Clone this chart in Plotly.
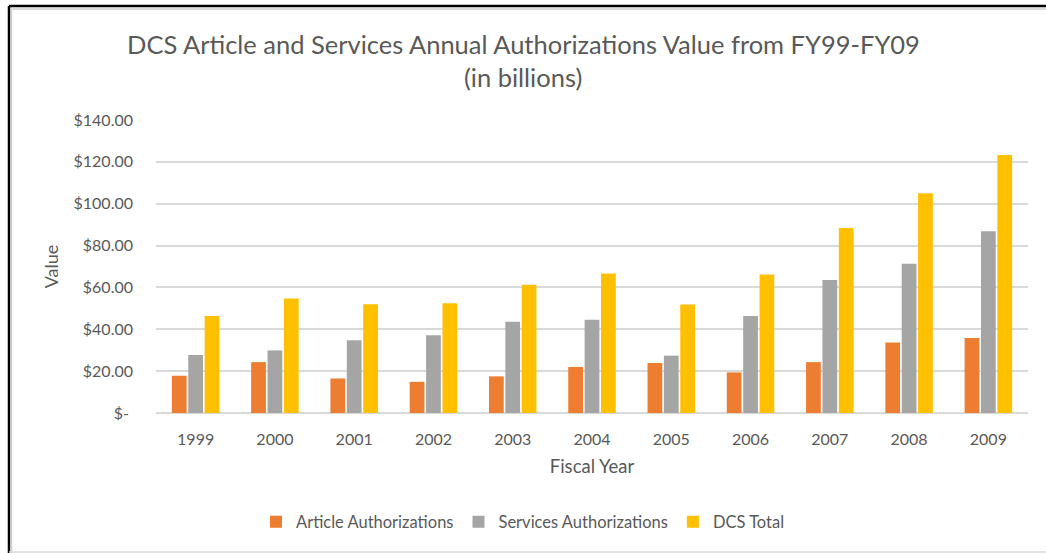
import plotly.graph_objects as go

# Fiscal years and authorization values (billions of dollars)
years = ["1999", "2000", "2001", "2002", "2003", "2004", "2005", "2006", "2007", "2008", "2009"]
article = [17.8, 24.3, 16.5, 14.9, 17.5, 22.0, 23.9, 19.4, 24.3, 33.7, 35.8]
services = [27.7, 29.9, 34.8, 37.2, 43.6, 44.5, 27.4, 46.4, 63.6, 71.3, 86.9]
dcs_total = [46.4, 54.7, 52.0, 52.5, 61.3, 66.6, 51.8, 66.2, 88.4, 105.0, 123.3]

y_ticks = [0, 20, 40, 60, 80, 100, 120, 140]
y_tick_text = ["$-\u00a0", "$20.00", "$40.00", "$60.00", "$80.00", "$100.00", "$120.00", "$140.00"]

title_lines = ["DCS Article and Services Annual Authorizations Value from FY99-FY09", "(in billions)"]

W, H = 1046, 553
ML, MR, MT, MB = 156, 18, 120, 140
FONT = "Lato, 'Open Sans', sans-serif"
TXT = "#595959"

fig = go.Figure()
for name, vals, col in [
    ("Article Authorizations", article, "#ED7D31"),
    ("Services Authorizations", services, "#A5A5A5"),
    ("DCS Total", dcs_total, "#FFC000"),
]:
    fig.add_trace(go.Bar(x=years, y=vals, name=name,
                         marker=dict(color=col, line=dict(width=0))))

# helpers to place frame and title in paper coordinates
pw, ph = W - ML - MR, H - MT - MB
def px(x):
    return (x - ML) / pw
def py(y):
    return (H - MB - y) / ph

frame = [
    (9, 6, W, 6, "#000000", 2.5),
    (9, 6, 9, H, "#000000", 2.5),
    (11.5, 9, W, 9, "#D0D0D0", 1.5),
    (11.5, 9, 11.5, H, "#D0D0D0", 1.5),
    (9, 552, W, 552, "#D9D9D9", 1.5),
]
shapes = [dict(type="line", xref="paper", yref="paper",
               x0=px(a), y0=py(b), x1=px(c), y1=py(d),
               line=dict(color=col, width=w), layer="above")
          for a, b, c, d, col, w in frame]

annotations = [dict(text=t, xref="paper", yref="paper", x=px(W / 2), y=py(yc),
                    xanchor="center", yanchor="middle", showarrow=False,
                    font=dict(family=FONT, size=25.5, color=TXT))
               for t, yc in zip(title_lines, [44, 77])]

fig.update_layout(
    width=W, height=H,
    margin=dict(l=ML, r=MR, t=MT, b=MB),
    paper_bgcolor="white", plot_bgcolor="white",
    font=dict(family=FONT, color=TXT, size=16),
    barmode="group", bargap=0.38, bargroupgap=0.1,
    showlegend=True,
    legend=dict(orientation="h", x=0.5, xanchor="center", xref="container",
                y=1 - 522 / H, yref="container", yanchor="middle",
                font=dict(family=FONT, size=16.5, color=TXT),
                itemwidth=30, traceorder="normal"),
    shapes=shapes,
    annotations=annotations,
)
fig.update_xaxes(showgrid=False, showline=False, ticks="", ticklabelstandoff=15,
                 tickfont=dict(family=FONT, size=16, color=TXT),
                 title=dict(text="Fiscal Year", font=dict(family=FONT, size=18.5, color=TXT), standoff=13))
fig.update_yaxes(range=[0, 140], tickvals=y_ticks, ticktext=y_tick_text,
                 showgrid=True, gridcolor="#D9D9D9", gridwidth=1.5,
                 zeroline=True, zerolinecolor="#D9D9D9", zerolinewidth=1.5,
                 showline=False, ticks="", ticklabelstandoff=22,
                 tickfont=dict(family=FONT, size=16, color=TXT),
                 title=dict(text="Value", font=dict(family=FONT, size=18, color=TXT), standoff=10))

fig.write_html("out.html")
